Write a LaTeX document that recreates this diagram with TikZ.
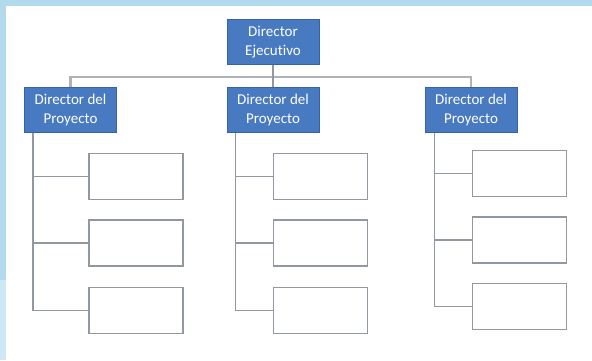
\documentclass[tikz,border=0pt]{standalone}
\usepackage{fontspec}
\setmainfont[Ligatures=NoCommon]{Carlito}
\usepackage{xcolor}
\usepackage{tikz}
\usetikzlibrary{positioning,calc}
\definecolor{boxblue}{RGB}{72,122,194}
\definecolor{boxedge}{RGB}{56,98,168}
\definecolor{edgegray}{RGB}{146,152,162}
\definecolor{busgray}{RGB}{176,178,182}
\definecolor{frameblue}{RGB}{178,218,236}
\definecolor{stripblue}{RGB}{206,232,246}
\tikzset{
  headbox/.style={draw=boxedge, fill=boxblue, thick, text=white,
    minimum width=92pt, minimum height=45pt, align=center, inner sep=1pt,
    font=\fontsize{15}{19}\selectfont},
  emptybox/.style={draw=edgegray, fill=white, line width=1.3pt,
    minimum width=94pt, minimum height=46pt},
  link/.style={draw=edgegray, line width=1.3pt},
  busline/.style={draw=busgray, line width=2.6pt}
}

\begin{document}
\begin{tikzpicture}[x=1pt, y=-1pt]
% background frame
\fill[frameblue] (0,0) rectangle (592,360);
\fill[stripblue] (0,280) rectangle (6,360);
\fill[white] (6,6) rectangle (592,360);
\useasboundingbox (0,0) rectangle (592,360);

% top level
\node[headbox] (ceo) at (273,42) {Director\\Ejecutivo};
\coordinate (bus) at (273,77);

% project directors
\node[headbox] (pd1) at (70.5,110) {Director del\\Proyecto};
\node[headbox] (pd2) at (273,110) {Director del\\Proyecto};
\node[headbox] (pd3) at (471,110) {Director del\\Proyecto};

% empty boxes under each director
\node[emptybox] (c11) at (136,176.5) {};
\node[emptybox] (c12) at (136,243) {};
\node[emptybox] (c13) at (136,310.5) {};
\node[emptybox] (c21) at (320.5,176.5) {};
\node[emptybox] (c22) at (320.5,243) {};
\node[emptybox] (c23) at (320.5,310.5) {};
\node[emptybox] (c31) at (519.5,173.5) {};
\node[emptybox] (c32) at (519.5,240) {};
\node[emptybox] (c33) at (519.5,306.5) {};

% connectors
\draw[busline] (pd1.north) |- (bus) -| (pd3.north);
\draw[link] (ceo) -- (pd2);
\foreach \c/\s in {1/9,2/9,3/10}{
  \foreach \k in {1,2,3}{
    \draw[link] ([xshift=\s pt]pd\c.south west) |- (c\c\k.west);
  }
}
\end{tikzpicture}
\end{document}
